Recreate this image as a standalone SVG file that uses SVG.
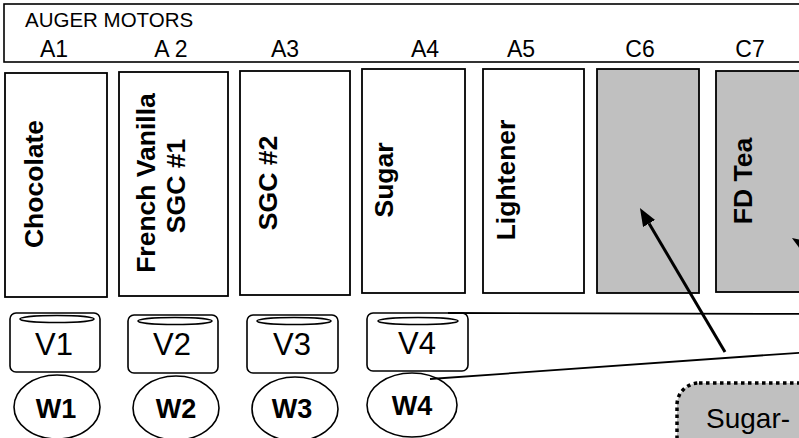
<svg xmlns="http://www.w3.org/2000/svg" width="799" height="438" viewBox="0 0 799 438">
<defs>
<style>
.t{font-family:"Liberation Sans",Arial,sans-serif;fill:#000}
.lbl{font-size:23px;text-anchor:middle}
.col{fill:#fff;stroke:#000;stroke-width:1.8}
.gray{fill:#c0c0c0}
.rt{font-size:26.5px;font-weight:bold;text-anchor:middle}
.v{fill:#fff;stroke:#000;stroke-width:1.6}
.vt{font-size:31px;text-anchor:middle}
.wt{font-size:27px;font-weight:bold;text-anchor:middle}
.ln{fill:none;stroke:#000;stroke-width:1.8}
</style>
<marker id="ah" markerUnits="userSpaceOnUse" markerWidth="20" markerHeight="16" refX="0" refY="7" orient="auto">
<path d="M0,0 L18,7 L0,14 Z" fill="#000"/>
</marker>
</defs>
<rect x="4" y="4" width="810" height="58" fill="#fff" stroke="#000" stroke-width="1.6"/>
<text class="t" x="25" y="27" font-size="20.5">AUGER MOTORS</text>
<g class="t lbl">
<text x="54" y="57">A1</text>
<text x="171" y="57">A 2</text>
<text x="285" y="57">A3</text>
<text x="425" y="57">A4</text>
<text x="521" y="57">A5</text>
<text x="640" y="57">C6</text>
<text x="750" y="57">C7</text>
</g>
<g id="chocolate"><rect class="col" x="5" y="73" width="102" height="224"/><text class="t rt" transform="translate(43,184) rotate(-90)">Chocolate</text></g>
<g id="french-vanilla"><rect class="col" x="119" y="72" width="109" height="224"/><text class="t rt" transform="translate(155,183) rotate(-90)">French Vanilla</text><text class="t rt" transform="translate(185,186) rotate(-90)">SGC #1</text></g>
<g id="sgc2"><rect class="col" x="240" y="71" width="110" height="224"/><text class="t rt" transform="translate(277,183) rotate(-90)">SGC #2</text></g>
<g id="sugar"><rect class="col" x="362" y="69" width="103" height="224"/><text class="t rt" transform="translate(393,180) rotate(-90)">Sugar</text></g>
<g id="lightener"><rect class="col" x="483" y="69" width="101" height="224"/><text class="t rt" transform="translate(515,180) rotate(-90)">Lightener</text></g>
<g id="c6"><rect class="col gray" x="597" y="69" width="102" height="224"/></g>
<g id="fd-tea"><rect class="col gray" x="716" y="71" width="110" height="221"/><text class="t rt" transform="translate(752,181) rotate(-90)">FD Tea</text></g>
<g id="v1"><rect class="v" x="10" y="313" width="90" height="59" rx="6"/><ellipse class="v" cx="57" cy="319" rx="37" ry="3.5"/><text class="t vt" x="54" y="355">V1</text></g>
<g id="v2"><rect class="v" x="128" y="315" width="90" height="58" rx="6"/><ellipse class="v" cx="175" cy="321" rx="37" ry="3.5"/><text class="t vt" x="172" y="355">V2</text></g>
<g id="v3"><rect class="v" x="247" y="315" width="91" height="58" rx="6"/><ellipse class="v" cx="294" cy="321" rx="37" ry="3.5"/><text class="t vt" x="292" y="355">V3</text></g>
<g id="v4"><rect class="v" x="367" y="313" width="101" height="58" rx="6"/><ellipse class="v" cx="418" cy="321" rx="40" ry="3.5"/><text class="t vt" x="417" y="354">V4</text></g>
<g id="w1"><ellipse class="v" cx="57" cy="407" rx="43" ry="32"/><text class="t wt" x="56" y="418">W1</text></g>
<g id="w2"><ellipse class="v" cx="176" cy="408" rx="43" ry="32"/><text class="t wt" x="176" y="418">W2</text></g>
<g id="w3"><ellipse class="v" cx="295" cy="409" rx="43" ry="32"/><text class="t wt" x="292" y="418">W3</text></g>
<g id="w4"><ellipse class="v" cx="412" cy="405" rx="45" ry="32"/><text class="t wt" x="412" y="415">W4</text></g>
<g id="callout"><rect x="677" y="383" width="220" height="110" rx="22" fill="#c0c0c0" stroke="#000" stroke-width="3.5" stroke-dasharray="3.5 3.5"/><text class="t" x="706" y="428" font-size="28">Sugar-</text></g>
<g id="connectors">
<path class="ln" d="M448,313 L810,314"/>
<path class="ln" d="M430,379 L810,352"/>
<path d="M725,352 L649.1,223.5" fill="none" stroke="#000" stroke-width="3" marker-end="url(#ah)"/>
<path d="M840,268 L807.2,247.6" fill="none" stroke="#000" stroke-width="3" marker-end="url(#ah)"/>
</g>
</svg>
